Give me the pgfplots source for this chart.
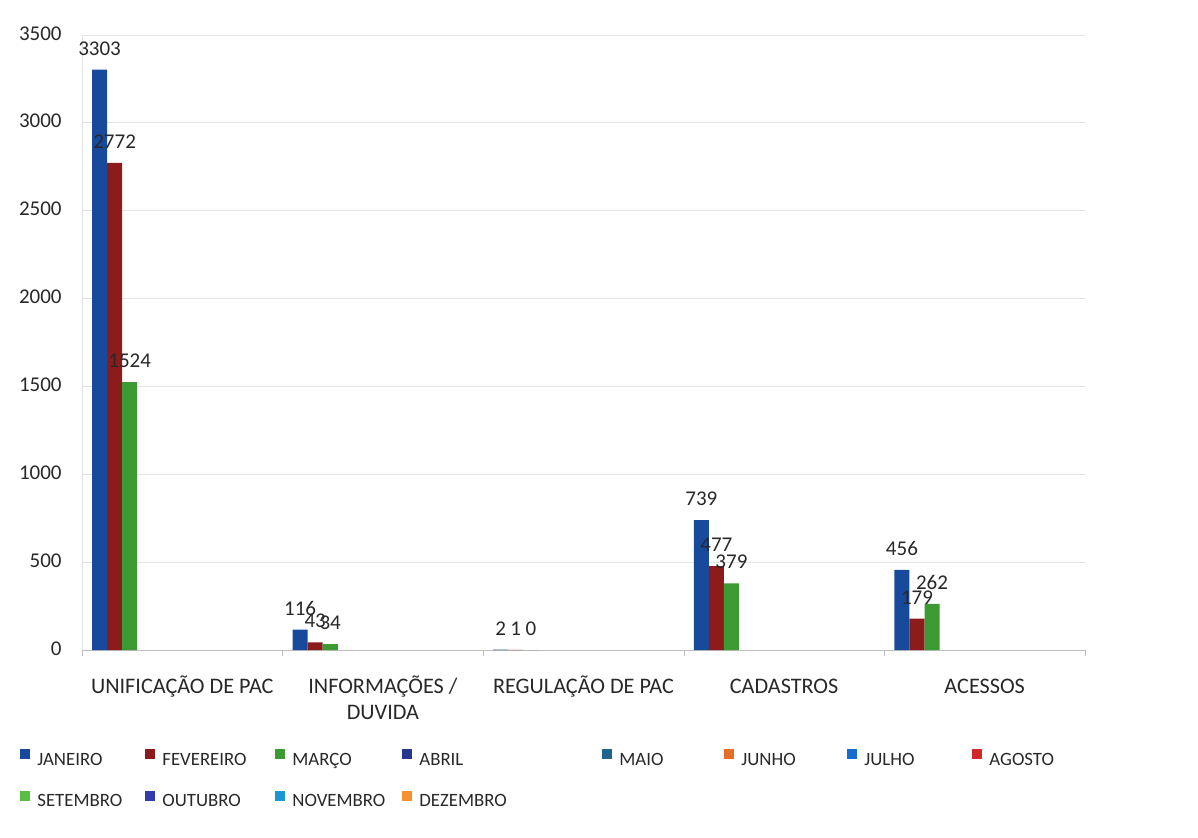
\documentclass[border=0pt]{standalone}
\usepackage{pgfplots}
\pgfplotsset{compat=1.18}
\usepackage{fontspec}
\setmainfont{Carlito}
\definecolor{jan}{RGB}{24,74,156}
\definecolor{fev}{RGB}{140,28,28}
\definecolor{mar}{RGB}{59,154,50}
\definecolor{abr}{RGB}{40,55,140}
\definecolor{mai}{RGB}{30,100,140}
\definecolor{jun}{RGB}{230,110,40}
\definecolor{jul}{RGB}{20,110,210}
\definecolor{ago}{RGB}{210,40,40}
\definecolor{set}{RGB}{90,190,70}
\definecolor{out}{RGB}{50,60,170}
\definecolor{nov}{RGB}{30,150,210}
\definecolor{dez}{RGB}{245,145,50}
\definecolor{labelcol}{RGB}{40,40,40}
\definecolor{gridgray}{RGB}{228,228,228}
\definecolor{axisgray}{RGB}{190,190,190}
\pgfplotsset{mysq/.style={legend image code/.code={\fill[##1] (0pt,0.3pt) rectangle (5pt,5.3pt);}}}
\begin{document}
\begin{tikzpicture}[font=\fontsize{10.5}{12.6}\selectfont]
\begin{axis}[
  at={(0,0)}, anchor=south west,
  scale only axis, width=501.5pt, height=307.5pt,
  xmin=-0.5, xmax=4.5, ymin=0, ymax=3500,
  ytick={0,500,...,3500},
  xtick={0,1,2,3,4},
  xticklabels={{UNIFICAÇÃO DE PAC},{INFORMAÇÕES /\\DUVIDA},{REGULAÇÃO DE PAC},{CADASTROS},{ACESSOS}},
  typeset ticklabels with strut,
  minor xtick={-0.5,0.5,1.5,2.5,3.5,4.5},
  tick align=outside, major tick length=0pt, minor tick length=3pt,
  minor tick style={draw=axisgray},
  axis x line*=bottom, axis y line*=left,
  axis line style={-},
  x axis line style={draw=axisgray},
  y axis line style={draw=gridgray},
  ymajorgrids, grid style={draw=gridgray},
  /pgf/number format/.cd, 1000 sep={}, assume math mode=true, /pgfplots/.cd,
  ticklabel style={font=\fontsize{10.5}{12.6}\selectfont, text=labelcol},
  yticklabel style={inner sep=0pt, xshift=-10pt},
  xticklabel style={font=\fontsize{11.1}{13.3}\selectfont, align=center, inner sep=0pt, yshift=-12pt},
  ybar, bar width=0.075,
  nodes near coords,
  nodes near coords style={font=\fontsize{10.5}{12.6}\selectfont, text=labelcol, inner sep=0pt, anchor=south, yshift=7pt},
  legend columns=8,
  legend style={at={(-0.0678,-0.1545)}, anchor=north west, draw=none, fill=none,
    column sep=3.5pt, row sep=10.5pt,
    nodes={inner sep=0pt, text height=7.5pt, text depth=2.5pt, font=\fontsize{9.4}{11.3}\selectfont, text=labelcol}},
]
\addplot[mysq, fill=jan, draw=none, bar shift=-0.4125] coordinates {(0,3303) (1,116) (2,2) (3,739) (4,456)};
\addlegendentry{\makebox[50.5pt][l]{JANEIRO}}
\addplot[mysq, fill=fev, draw=none, bar shift=-0.3375] coordinates {(0,2772) (1,43) (2,1) (3,477) (4,179)};
\addlegendentry{\makebox[53pt][l]{FEVEREIRO}}
\addplot[mysq, fill=mar, draw=none, bar shift=-0.2625] coordinates {(0,1524) (1,34) (2,0) (3,379) (4,262)};
\addlegendentry{\makebox[51.5pt][l]{MARÇO}}
\addlegendimage{mysq, fill=abr, draw=none}
\addlegendentry{\makebox[88pt][l]{ABRIL}}
\addlegendimage{mysq, fill=mai, draw=none}
\addlegendentry{\makebox[49pt][l]{MAIO}}
\addlegendimage{mysq, fill=jun, draw=none}
\addlegendentry{\makebox[49.5pt][l]{JUNHO}}
\addlegendimage{mysq, fill=jul, draw=none}
\addlegendentry{\makebox[50.5pt][l]{JULHO}}
\addlegendimage{mysq, fill=ago, draw=none}
\addlegendentry{\makebox[50.5pt][l]{AGOSTO}}
\addlegendimage{mysq, fill=set, draw=none}
\addlegendentry{\makebox[50.5pt][l]{SETEMBRO}}
\addlegendimage{mysq, fill=out, draw=none}
\addlegendentry{\makebox[53pt][l]{OUTUBRO}}
\addlegendimage{mysq, fill=nov, draw=none}
\addlegendentry{\makebox[51.5pt][l]{NOVEMBRO}}
\addlegendimage{mysq, fill=dez, draw=none}
\addlegendentry{\makebox[88pt][l]{DEZEMBRO}}
\end{axis}
\pgfresetboundingbox
\path[use as bounding box] (-41pt,-93.5pt) rectangle (558pt,325pt);
\end{tikzpicture}
\end{document}
